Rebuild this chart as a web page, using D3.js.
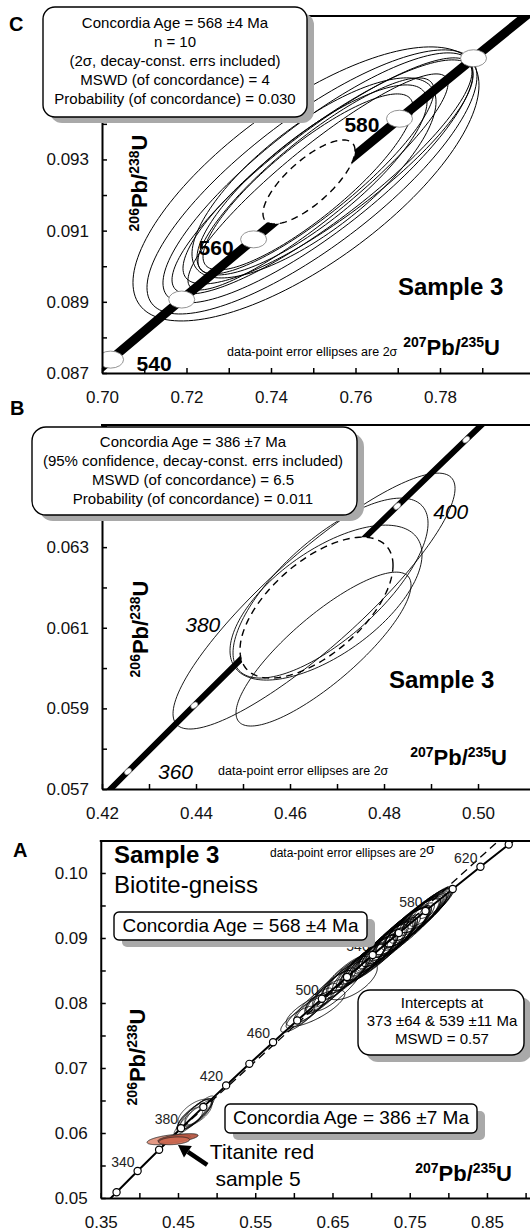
<!DOCTYPE html>
<html><head><meta charset="utf-8">
<script src="https://cdn.jsdelivr.net/npm/d3@7"></script>
<style>
html,body{margin:0;padding:0;background:#fff;}
svg{display:block;font-family:Arial,"Liberation Sans",Helvetica,sans-serif;}
</style></head><body>
<svg id="chart" width="530" height="1232"></svg>
<script>
// ---------------- DATA ----------------
// Panel C (zircon, 568 Ma)
const C_age   = [520,530,540,550,560,570,580,590,600,610];
const C_concX = [0.668829,0.685344,0.702026,0.718871,0.735882,0.753063,0.770414,0.787935,0.805630,0.823502];
const C_concY = [0.084008,0.085691,0.087376,0.089064,0.090755,0.092448,0.094144,0.095843,0.097544,0.099248];
const C_labelAges = [540,560,580];
const C_ellX   = [0.74828,0.74970,0.75112,0.75207,0.74970,0.75065,0.75018,0.74876,0.75112,0.75349];
const C_ellY   = [0.092312,0.092368,0.092481,0.092537,0.092424,0.092537,0.092481,0.092368,0.092368,0.092649];
const C_ellSX  = [0.04095,0.03905,0.03669,0.03550,0.02722,0.02793,0.02888,0.02485,0.03077,0.03432];
const C_ellSY  = [0.003850,0.003710,0.003513,0.003317,0.002670,0.002754,0.002811,0.002473,0.003035,0.003148];
const C_ellRho = [0.72,0.80,0.84,0.88,0.82,0.87,0.76,0.85,0.91,0.86];
const C_ageEll = [0.74899,0.092368,0.01089,0.00118,0.75];
const C_xTicks = [0.70,0.71,0.72,0.73,0.74,0.75,0.76,0.77,0.78,0.79];
const C_xLabels = [0.70,0.72,0.74,0.76,0.78];
const C_yTicks = [0.087,0.088,0.089,0.090,0.091,0.092,0.093,0.094,0.095,0.096,0.097];
const C_yLabels = [0.087,0.089,0.091,0.093];
const C_box = ["Concordia Age = 568 \u00b14 Ma","n = 10","(2\u03c3, decay-const. errs included)","MSWD (of concordance) = 4","Probability (of concordance) = 0.030"];

// Panel B (386 Ma)
const B_age   = [350,360,370,380,390,400,410,420];
const B_concX = [0.411562,0.425533,0.439643,0.453890,0.468280,0.482811,0.497488,0.512308];
const B_concY = [0.055795,0.057434,0.059075,0.060720,0.062366,0.064016,0.065667,0.067322];
const B_labelAges = [360,380,400];
const B_ellX   = [0.46511,0.46862,0.46713,0.46766];
const B_ellY   = [0.061662,0.061984,0.060471,0.061624];
const B_ellSX  = [0.0300,0.020745,0.018617,0.020426];
const B_ellSY  = [0.003174,0.002232,0.001909,0.001922];
const B_ellRho = [0.88,0.72,0.83,0.62];
const B_ageEll = [0.46564,0.061500,0.016277,0.001748,0.60];
const B_xTicks = [0.42,0.43,0.44,0.45,0.46,0.47,0.48,0.49,0.50];
const B_xLabels = [0.42,0.44,0.46,0.48,0.50];
const B_yTicks = [0.057,0.058,0.059,0.060,0.061,0.062,0.063,0.064,0.065,0.066];
const B_yLabels = [0.057,0.059,0.061,0.063];
const B_box = ["Concordia Age = 386 \u00b17 Ma","(95% confidence, decay-const. errs included)","MSWD (of concordance) = 6.5","Probability (of concordance) = 0.011"];

// Panel A (overview)
const A_age   = [300,320,340,360,380,400,420,440,460,480,500,520,540,560,580,600,620,640,660];
const A_concX = [0.343737,0.370467,0.397728,0.425533,0.453890,0.482811,0.512308,0.542392,0.573073,0.604365,0.636279,0.668829,0.702026,0.735882,0.770414,0.805630,0.841548,0.878182,0.915541];
const A_concY = [0.047637,0.050893,0.054158,0.057434,0.060720,0.064016,0.067322,0.070638,0.073965,0.077302,0.080650,0.084008,0.087376,0.090755,0.094144,0.097544,0.100955,0.104376,0.107807];
const A_labelAges = [340,380,420,460,500,540,580,620];
const A_interceptAge = [373,539];
const A_interceptX = [0.443902,0.700350];
const A_interceptY = [0.0595684,0.0872073];
const A_mainX = [0.605,0.615,0.622,0.628,0.632,0.640,0.645,0.628,0.675,0.660,0.668,0.680,0.688,0.693,0.700,0.705,0.710,0.714,0.718,0.722,0.726,0.730,0.734,0.738,0.742,0.746,0.750,0.754,0.758,0.762,0.766,0.770,0.774,0.778,0.782,
                 0.690,0.700,0.708,0.716,0.724,0.732,0.740,0.748,0.756,0.764,0.772,0.712,0.728,0.744,0.760,
                 0.650,0.658,0.664,0.672,0.684,0.696];
const A_mainY = [0.0775,0.0785,0.0792,0.0800,0.0803,0.0810,0.0818,0.0792,0.0835,0.0830,0.0842,0.0852,0.0858,0.0864,0.0870,0.0874,0.0878,0.0884,0.0887,0.0891,0.0896,0.0899,0.0904,0.0908,0.0912,0.0915,0.0920,0.0924,0.0927,0.0932,0.0936,0.0940,0.0944,0.0948,0.0952,
                 0.0860,0.0868,0.0877,0.0886,0.0893,0.0901,0.0910,0.0918,0.0926,0.0934,0.0942,0.0880,0.0897,0.0913,0.0930,
                 0.0822,0.0830,0.0836,0.0845,0.0855,0.0866];
const A_mainSX = [0.022,0.025,0.020,0.028,0.018,0.024,0.030,0.038,0.033,0.035,0.030,0.025,0.030,0.028,0.034,0.030,0.036,0.030,0.040,0.034,0.038,0.030,0.042,0.036,0.040,0.032,0.044,0.036,0.040,0.034,0.038,0.030,0.034,0.028,0.020,
                  0.028,0.030,0.026,0.032,0.030,0.028,0.034,0.030,0.032,0.028,0.026,0.045,0.048,0.046,0.044,
                  0.026,0.022,0.030,0.028,0.034,0.036];
const A_mainSY = [0.0020,0.0024,0.0022,0.0030,0.0020,0.0026,0.0032,0.0028,0.0030,0.0042,0.0030,0.0028,0.0034,0.0030,0.0036,0.0032,0.0038,0.0031,0.0042,0.0035,0.0040,0.0033,0.0044,0.0038,0.0042,0.0034,0.0046,0.0038,0.0041,0.0036,0.0040,0.0032,0.0036,0.0030,0.0022,
                  0.0030,0.0033,0.0028,0.0035,0.0032,0.0030,0.0036,0.0032,0.0034,0.0030,0.0028,0.0048,0.0050,0.0048,0.0046,
                  0.0028,0.0024,0.0032,0.0030,0.0036,0.0038];
const A_mainRho = [0.82,0.86,0.84,0.88,0.80,0.86,0.88,0.78,0.62,0.86,0.86,0.87,0.88,0.88,0.89,0.90,0.88,0.87,0.90,0.88,0.90,0.86,0.90,0.88,0.90,0.87,0.91,0.89,0.90,0.88,0.90,0.87,0.90,0.88,0.86,
                   0.84,0.86,0.83,0.86,0.85,0.84,0.86,0.85,0.86,0.84,0.83,0.92,0.92,0.91,0.92,
                   0.85,0.82,0.88,0.86,0.90,0.90];
const A_youngX = [0.471,0.474,0.468,0.476,0.470,0.478,0.466,0.472];
const A_youngY = [0.0628,0.0630,0.0625,0.0632,0.0624,0.0634,0.0622,0.0631];
const A_youngSX = [0.023,0.021,0.019,0.017,0.025,0.019,0.016,0.022];
const A_youngSY = [0.0025,0.0023,0.0021,0.0019,0.0027,0.0023,0.0017,0.0021];
const A_youngRho = [0.88,0.82,0.78,0.72,0.92,0.85,0.68,0.62];
const A_titX = [0.438,0.450,0.445];
const A_titY = [0.0590,0.0592,0.0588];
const A_titSX = [0.028,0.026,0.020];
const A_titSY = [0.0008,0.0007,0.0006];
const A_titRho = [0.55,0.60,0.30];
const A_arrow = [[0.4878,0.05508],[0.4500,0.05815]];
const A_xTicks = [0.35,0.40,0.45,0.50,0.55,0.60,0.65,0.70,0.75,0.80,0.85,0.90];
const A_xLabels = [0.35,0.45,0.55,0.65,0.75,0.85];
const A_yTicks = [0.050,0.055,0.060,0.065,0.070,0.075,0.080,0.085,0.090,0.095,0.100];
const A_yLabels = [0.05,0.06,0.07,0.08,0.09,0.10];

// ---------------- HELPERS ----------------
const svg = d3.select('#chart');
svg.append('rect').attr('width',530).attr('height',1232).attr('fill','#fff');

function ellPts(cx, cy, sx, sy, rho, xs, ys) {
  const k = Math.sqrt(1 - rho*rho), pts = [];
  for (let i = 0; i < 160; i++) {
    const t = i/160*2*Math.PI;
    pts.push([xs(cx + sx*Math.cos(t)), ys(cy + sy*(rho*Math.cos(t) + k*Math.sin(t)))]);
  }
  return pts;
}
function inside(e, px, py) {
  const u = (px-e[0])/e[2], v = (py-e[1])/e[3];
  return (u*u - 2*e[4]*u*v + v*v)/(1-e[4]*e[4]) < 1;
}
const closed = d3.line().curve(d3.curveLinearClosed);
const near = (arr, v) => arr.some(a => Math.abs(a-v) < 1e-9);

function drawAxes(g, x, y, L, B, T, xTicks, xLabels, xf, yTicks, yLabels, yf) {
  const ax = g.append('g').attr('transform',`translate(0,${B})`)
    .call(d3.axisBottom(x).tickValues(xTicks).tickSize(-5).tickSizeOuter(0).tickPadding(18)
      .tickFormat(d => near(xLabels,d) ? xf(d) : ''));
  const ay = g.append('g').attr('transform',`translate(${L},0)`)
    .call(d3.axisLeft(y).tickValues(yTicks).tickSize(-5).tickSizeOuter(0).tickPadding(13)
      .tickFormat(d => near(yLabels,d) ? yf(d) : ''));
  [ax, ay].forEach(a => {
    a.select('.domain').attr('stroke','#000').attr('stroke-width',2);
    a.selectAll('.tick line').attr('stroke','#000').attr('stroke-width',1.5);
    a.selectAll('.tick text').attr('font-size',17).attr('fill','#111')
      .attr('font-family','Arial, "Liberation Sans", sans-serif');
  });
  g.append('line').attr('x1',L-1).attr('x2',530).attr('y1',T).attr('y2',T)
    .attr('stroke','#000').attr('stroke-width',2);
}
function isoText(g, x, y, rotate, s1, m1, s2, m2, anchor) {
  const t = g.append('text').attr('font-weight','bold').attr('fill','#000')
    .attr('text-anchor', anchor)
    .attr('transform', rotate ? `translate(${x},${y}) rotate(-90)` : `translate(${x},${y})`);
  t.append('tspan').attr('font-size',14).attr('dy',-8).text(s1);
  t.append('tspan').attr('font-size',22).attr('dy',8).text(m1);
  t.append('tspan').attr('font-size',14).attr('dy',-8).text(s2);
  t.append('tspan').attr('font-size',22).attr('dy',8).text(m2);
}
function infoBox(g, x, y, w, h, r, lines, fs, cx, base0, step, sdx, sdy) {
  g.append('rect').attr('x',x+sdx).attr('y',y+sdy).attr('width',w).attr('height',h).attr('rx',r)
    .attr('fill','#a9a9a9');
  g.append('rect').attr('x',x).attr('y',y).attr('width',w).attr('height',h).attr('rx',r)
    .attr('fill','#fff').attr('stroke','#000').attr('stroke-width',1.4);
  lines.forEach((s,i) => g.append('text').attr('x',cx).attr('y',base0+i*step)
    .attr('text-anchor','middle').attr('font-size',fs).attr('fill','#000').text(s));
}
function clipFor(id, L, T, B) {
  svg.append('clipPath').attr('id',id).append('rect')
    .attr('x',L).attr('y',T).attr('width',540-L).attr('height',B-T);
}
const f2 = d3.format('.2f'), f3 = d3.format('.3f');

// ---------------- PANEL C ----------------
(function(){
  const L=102, B=373, T=16;
  const x = d3.scaleLinear().domain([0.70,0.8015]).range([L, L+0.1015*4225]);
  const y = d3.scaleLinear().domain([0.087,0.09703]).range([B, T]);
  clipFor('clipC', L, T, B);
  const g = svg.append('g');
  const p = g.append('g').attr('clip-path','url(#clipC)');
  const conc = C_age.map((a,i)=>[x(C_concX[i]), y(C_concY[i])]);
  p.append('path').attr('d', d3.line().curve(d3.curveCatmullRom)(conc))
    .attr('fill','none').attr('stroke','#000').attr('stroke-width',9);
  const e = C_ageEll;
  p.append('path').attr('d', closed(ellPts(e[0],e[1],e[2],e[3],e[4],x,y)))
    .attr('fill','#fff').attr('stroke','#000').attr('stroke-width',1.4).attr('stroke-dasharray','7,5');
  C_ellX.forEach((cx,i)=>{
    p.append('path').attr('d', closed(ellPts(cx,C_ellY[i],C_ellSX[i],C_ellSY[i],C_ellRho[i],x,y)))
      .attr('fill','none').attr('stroke','#000').attr('stroke-width',1);
  });
  C_age.forEach((a,i)=>{
    if (inside(e, C_concX[i], C_concY[i])) return;
    p.append('ellipse').attr('cx',x(C_concX[i])).attr('cy',y(C_concY[i])).attr('rx',13).attr('ry',8.5)
      .attr('fill','#fff').attr('stroke','#777').attr('stroke-width',0.8);
  });
  const lab = {540:[26,11,'start'],560:[-20,16,'end'],580:[-20,13,'end']};
  C_labelAges.forEach(a=>{
    const i = C_age.indexOf(a), o = lab[a];
    g.append('text').attr('x',x(C_concX[i])+o[0]).attr('y',y(C_concY[i])+o[1]).attr('text-anchor',o[2])
      .attr('font-size',21).attr('font-weight','bold').text(a);
  });
  drawAxes(g, x, y, L, B, T, C_xTicks, C_xLabels, f2, C_yTicks, C_yLabels, f3);
  isoText(g, 147, 183, true, '206','Pb/','238','U','middle');
  isoText(g, 500, 355, false, '207','Pb/','235','U','end');
  g.append('text').attr('x',227).attr('y',356).attr('font-size',12.5).text('data-point error ellipses are 2\u03c3');
  g.append('text').attr('x',398).attr('y',295).attr('font-size',24).attr('font-weight','bold').text('Sample 3');
  infoBox(g, 43, 7, 264, 110, 12, C_box, 15, 175, 28, 19, 7, 6);
  g.append('text').attr('x',9).attr('y',31).attr('font-size',20).attr('font-weight','bold').text('C');
})();

// ---------------- PANEL B ----------------
(function(){
  const L=102, B=789, T=425;
  const x = d3.scaleLinear().domain([0.42,0.51106]).range([L, 530]);
  const y = d3.scaleLinear().domain([0.057,0.06603]).range([B, T]);
  clipFor('clipB', L, T, B);
  const g = svg.append('g');
  const p = g.append('g').attr('clip-path','url(#clipB)');
  const conc = B_age.map((a,i)=>[x(B_concX[i]), y(B_concY[i])]);
  p.append('path').attr('d', d3.line().curve(d3.curveCatmullRom)(conc))
    .attr('fill','none').attr('stroke','#000').attr('stroke-width',6);
  const e = B_ageEll;
  p.append('path').attr('d', closed(ellPts(e[0],e[1],e[2],e[3],e[4],x,y)))
    .attr('fill','#fff').attr('stroke','#000').attr('stroke-width',1.4).attr('stroke-dasharray','7,5');
  B_ellX.forEach((cx,i)=>{
    p.append('path').attr('d', closed(ellPts(cx,B_ellY[i],B_ellSX[i],B_ellSY[i],B_ellRho[i],x,y)))
      .attr('fill','none').attr('stroke','#000').attr('stroke-width',0.9);
  });
  B_age.forEach((a,i)=>{
    if (inside(e, B_concX[i], B_concY[i])) return;
    p.append('ellipse').attr('rx',4).attr('ry',2.6)
      .attr('transform',`translate(${x(B_concX[i])},${y(B_concY[i])}) rotate(-40)`)
      .attr('fill','#fff').attr('stroke','#777').attr('stroke-width',0.6);
  });
  const lab = {360:[30,7,'start'],380:[-41,-7,'end'],400:[36,13,'start']};
  B_labelAges.forEach(a=>{
    const i = B_age.indexOf(a), o = lab[a];
    g.append('text').attr('x',x(B_concX[i])+o[0]).attr('y',y(B_concY[i])+o[1]).attr('text-anchor',o[2])
      .attr('font-size',21).attr('font-style','italic').text(a);
  });
  drawAxes(g, x, y, L, B, T, B_xTicks, B_xLabels, f2, B_yTicks, B_yLabels, f3);
  isoText(g, 148, 629, true, '206','Pb/','238','U','middle');
  isoText(g, 507, 765, false, '207','Pb/','235','U','end');
  g.append('text').attr('x',218).attr('y',775).attr('font-size',12.5).text('data-point error ellipses are 2\u03c3');
  g.append('text').attr('x',389).attr('y',688).attr('font-size',24).attr('font-weight','bold').text('Sample 3');
  infoBox(g, 32, 427, 325, 88, 14, B_box, 15, 193, 447, 19, 7, 6);
  g.append('text').attr('x',10).attr('y',415).attr('font-size',20).attr('font-weight','bold').text('B');
})();

// ---------------- PANEL A ----------------
(function(){
  const L=100.75, B=1198, T=841;
  const x = d3.scaleLinear().domain([0.35,0.9057]).range([L, 530]);
  const y = d3.scaleLinear().domain([0.05,0.10492]).range([B, T]);
  clipFor('clipA', L, T, B);
  const g = svg.append('g');
  const p = g.append('g').attr('clip-path','url(#clipA)');
  const conc = A_age.map((a,i)=>[x(A_concX[i]), y(A_concY[i])]);
  p.append('path').attr('d', d3.line().curve(d3.curveCatmullRom)(conc))
    .attr('fill','none').attr('stroke','#000').attr('stroke-width',2);
  const sl = (A_interceptY[1]-A_interceptY[0])/(A_interceptX[1]-A_interceptX[0]);
  const dx0 = 0.43, dx1 = 0.885;
  p.append('line')
    .attr('x1',x(dx0)).attr('y1',y(A_interceptY[0]+sl*(dx0-A_interceptX[0])))
    .attr('x2',x(dx1)).attr('y2',y(A_interceptY[0]+sl*(dx1-A_interceptX[0])))
    .attr('stroke','#000').attr('stroke-width',1.3).attr('stroke-dasharray','8,5');
  A_labelAges.forEach(a=>{
    const i = A_age.indexOf(a);
    p.append('text').attr('x',x(A_concX[i])-3).attr('y',y(A_concY[i])-4).attr('text-anchor','end')
      .attr('font-size',14).attr('fill','#222').text(a);
  });
  A_mainX.forEach((cx,i)=>{
    p.append('path').attr('d', closed(ellPts(cx,A_mainY[i],A_mainSX[i],A_mainSY[i],A_mainRho[i],x,y)))
      .attr('fill','none').attr('stroke','#000').attr('stroke-width',0.9);
  });
  A_youngX.forEach((cx,i)=>{
    p.append('path').attr('d', closed(ellPts(cx,A_youngY[i],A_youngSX[i],A_youngSY[i],A_youngRho[i],x,y)))
      .attr('fill','none').attr('stroke','#000').attr('stroke-width',0.7);
  });
  const titFill = ['#e08e77','#b04f3a','#cf6a52'];
  A_titX.forEach((cx,i)=>{
    p.append('path').attr('d', closed(ellPts(cx,A_titY[i],A_titSX[i],A_titSY[i],A_titRho[i],x,y)))
      .attr('fill',titFill[i]).attr('fill-opacity',0.9).attr('stroke','#222').attr('stroke-width',0.8);
  });
  A_age.forEach((a,i)=>{
    p.append('circle').attr('cx',x(A_concX[i])).attr('cy',y(A_concY[i])).attr('r',3.6)
      .attr('fill','#fff').attr('stroke','#000').attr('stroke-width',1.2);
  });
  drawAxes(g, x, y, L, B, T, A_xTicks, A_xLabels, f2, A_yTicks, A_yLabels, f2);
  const ax0 = x(A_arrow[0][0]), ay0 = y(A_arrow[0][1]), ax1 = x(A_arrow[1][0]), ay1 = y(A_arrow[1][1]);
  const ang = Math.atan2(ay1-ay0, ax1-ax0);
  const hl = 12, hw = 7;
  const bx = ax1 - hl*Math.cos(ang), by = ay1 - hl*Math.sin(ang);
  g.append('line').attr('x1',ax0).attr('y1',ay0).attr('x2',bx).attr('y2',by)
    .attr('stroke','#000').attr('stroke-width',4.5);
  g.append('path').attr('d', `M${ax1},${ay1} L${bx+hw*Math.sin(ang)},${by-hw*Math.cos(ang)} L${bx-hw*Math.sin(ang)},${by+hw*Math.cos(ang)} Z`)
    .attr('fill','#000');
  g.append('text').attr('x',262).attr('y',1159).attr('text-anchor','middle').attr('font-size',21).text('Titanite red');
  g.append('text').attr('x',258).attr('y',1186).attr('text-anchor','middle').attr('font-size',21).text('sample 5');
  isoText(g, 145, 1057, true, '206','Pb/','238','U','middle');
  isoText(g, 512, 1181, false, '207','Pb/','235','U','end');
  const dt = g.append('text').attr('x',270).attr('y',857).attr('font-size',12);
  dt.append('tspan').text('data-point error ellipses are 2');
  dt.append('tspan').attr('dy',-3).attr('font-size',14).text('\u03c3');
  g.append('text').attr('x',114).attr('y',863).attr('font-size',24).attr('font-weight','bold').text('Sample 3');
  g.append('text').attr('x',114).attr('y',893).attr('font-size',24).text('Biotite-gneiss');
  infoBox(g, 114, 912, 253, 28, 5, ['Concordia Age = 568 \u00b14 Ma'], 19, 240.5, 932, 0, 8, 7);
  infoBox(g, 225, 1104, 252, 29, 5, ['Concordia Age = 386 \u00b17 Ma'], 19, 351, 1124, 0, 8, 7);
  infoBox(g, 358, 990, 166, 65, 12, ['Intercepts at','373 \u00b164 & 539 \u00b111 Ma','MSWD = 0.57'], 15, 442, 1008, 18, 8, 7);
  g.append('text').attr('x',13).attr('y',857).attr('font-size',20).attr('font-weight','bold').text('A');
})();
</script>
</body></html>
